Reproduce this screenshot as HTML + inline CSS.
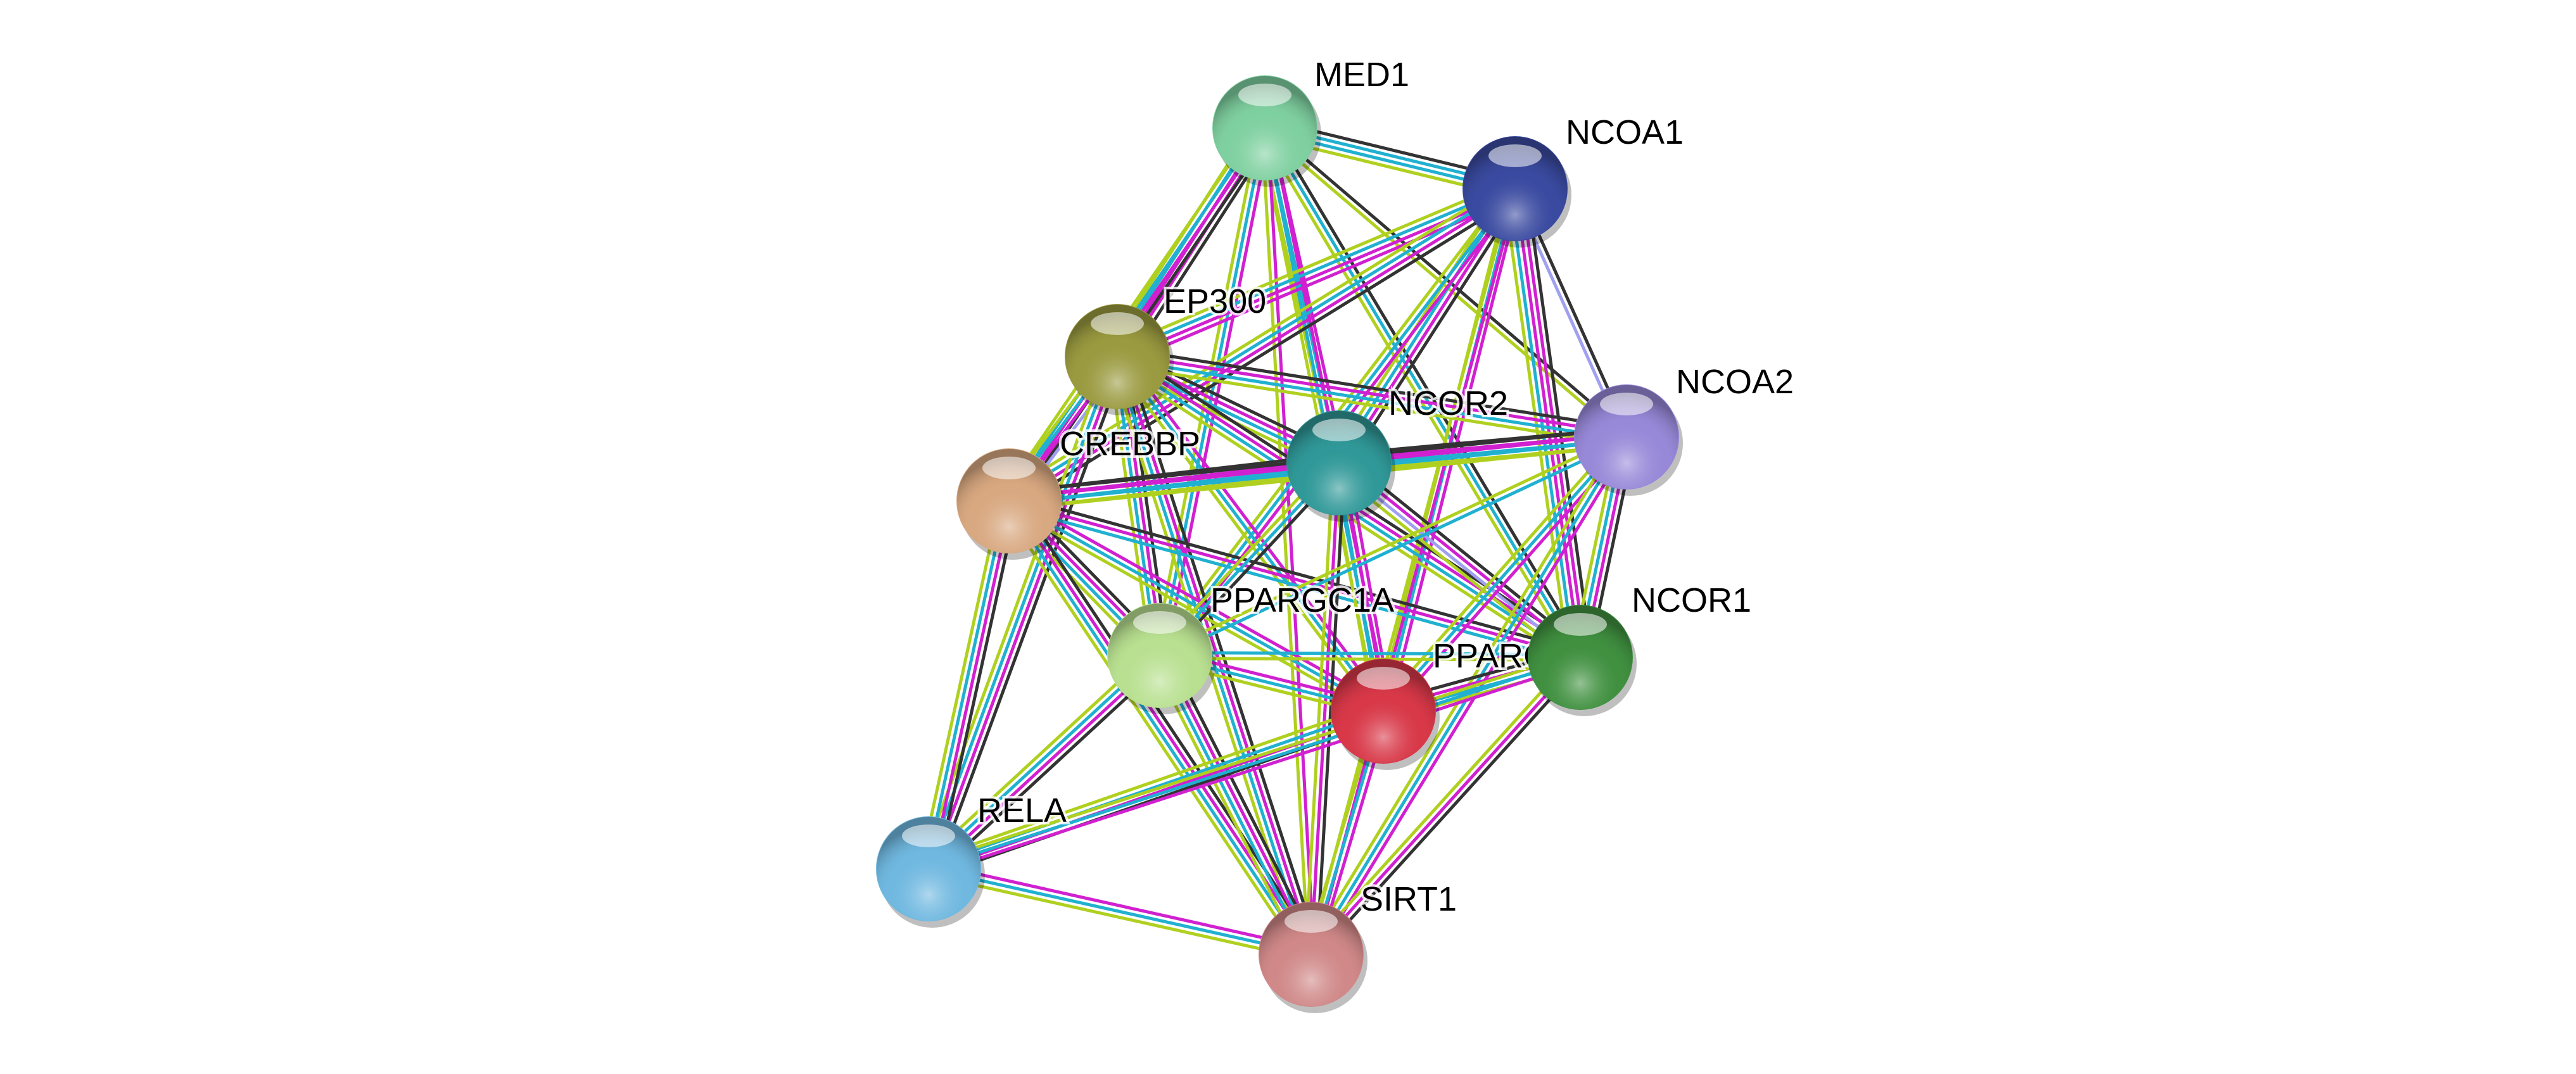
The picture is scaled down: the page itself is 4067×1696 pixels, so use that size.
<!DOCTYPE html>
<html><head><meta charset="utf-8"><style>
html,body{margin:0;padding:0;background:#fff;width:4067px;height:1696px;overflow:hidden}
svg{display:block}
text{font-family:"Liberation Sans",sans-serif;font-size:54px;fill:#000}
</style></head><body>
<svg id="s" width="4067" height="1696" xmlns="http://www.w3.org/2000/svg">
<defs id="d"></defs>
<g id="e"></g><g id="n"></g>
</svg>
<script>
const N={
MED1:[1997,202,"#7fd0a0","MED1",2075,117],
NCOA1:[2392,298,"#3a4aa0","NCOA1",2472,208],
EP300:[1764,563,"#9a9a40","EP300",1837,475],
CREBBP:[1593,791,"#d8a880","CREBBP",1673,700],
NCOR2:[2114,731,"#309898","NCOR2",2192,636],
NCOA2:[2568,690,"#9888d8","NCOA2",2646,602],
PPARGC1A:[1831,1035,"#b8e090","PPARGC1A",1911,947],
PPARG:[2184,1123,"#d83848","PPARG",2262,1035],
NCOR1:[2495,1038,"#409040","NCOR1",2576,947],
RELA:[1466,1372,"#70b8e0","RELA",1543,1279],
SIRT1:[2070,1507,"#d08888","SIRT1",2148,1419]};
const K="#333",M="#d020d0",C="#20b0d0",Y="#b0d020",B="#a0a0f0";
const E=[
["MED1","NCOA1",[K,C,C,Y]],["MED1","EP300",[K,M,M,C,Y]],["MED1","CREBBP",[K,M,C,Y]],["MED1","NCOR2",[M,C,Y]],
["MED1","PPARGC1A",[M,C,Y]],["MED1","PPARG",[M,C,Y]],["MED1","NCOR1",[K,C,Y]],["MED1","NCOA2",[K,Y]],["MED1","SIRT1",[M,Y]],
["NCOA1","EP300",[M,M,C,Y]],["NCOA1","CREBBP",[K,M,C,Y]],["NCOA1","NCOR2",[K,M,C,Y]],["NCOA1","NCOA2",[K,B]],
["NCOA1","PPARGC1A",[M,C,Y]],["NCOA1","PPARG",[M,C,Y]],["NCOA1","NCOR1",[K,M,M,C,Y]],["NCOA1","SIRT1",[M,Y]],
["EP300","CREBBP",[B,M,C,Y]],["EP300","NCOR2",[K,M,C,Y]],["EP300","NCOA2",[K,M,C,Y]],["EP300","PPARGC1A",[K,M,C,Y]],
["EP300","PPARG",[M,C,Y]],["EP300","NCOR1",[K,M,C,Y]],["EP300","RELA",[K,M,C,Y]],["EP300","SIRT1",[K,M,C,Y]],
["CREBBP","NCOR2",[K,M,C,Y]],["CREBBP","NCOA2",[K,M,C,Y]],["CREBBP","PPARGC1A",[K,M,C,Y]],["CREBBP","PPARG",[M,C,Y]],
["CREBBP","NCOR1",[K,M,C]],["CREBBP","RELA",[K,M,C,Y]],["CREBBP","SIRT1",[K,M,C,Y]],
["NCOR2","NCOA2",[K,M,C,Y]],["NCOR2","PPARGC1A",[K,C,Y]],["NCOR2","PPARG",[M,M,C,Y]],["NCOR2","NCOR1",[K,M,B,Y]],["NCOR2","SIRT1",[K,M,Y]],
["NCOA2","PPARGC1A",[C,Y]],["NCOA2","PPARG",[M,C,Y]],["NCOA2","NCOR1",[K,M,C,Y]],["NCOA2","SIRT1",[M,C,Y]],
["PPARGC1A","PPARG",[M,C,Y]],["PPARGC1A","NCOR1",[C,Y]],["PPARGC1A","RELA",[K,M,C,Y]],["PPARGC1A","SIRT1",[K,M,C,Y]],
["PPARG","NCOR1",[K,M,C,Y]],["PPARG","RELA",[K,M,C,Y]],["PPARG","SIRT1",[M,C,Y]],
["NCOR1","RELA",[M,C,Y]],["NCOR1","SIRT1",[K,M,Y]],["RELA","SIRT1",[M,C,Y]]];
const ns="http://www.w3.org/2000/svg";
function el(t,a,p){const e=document.createElementNS(ns,t);for(const k in a)e.setAttribute(k,a[k]);p.appendChild(e);return e}
const g=document.getElementById("e");
for(const [a,b,cs] of E){const [x1,y1]=N[a],[x2,y2]=N[b];const dx=x2-x1,dy=y2-y1,L=Math.hypot(dx,dy);const px=-dy/L,py=dx/L;
cs.forEach((c,i)=>{const o=(i-(cs.length-1)/2)*9;el("line",{x1:x1+px*o,y1:y1+py*o,x2:x2+px*o,y2:y2+py*o,stroke:c,"stroke-width":5},g)})}
const d=document.getElementById("d"),gn=document.getElementById("n");
let i=0;
for(const k in N){const [x,y,c,l,tx,ty]=N[k];i++;
const rg=el("radialGradient",{id:"g"+i,cx:"50%",cy:"75%",r:"65%"},d);
el("stop",{offset:"0","stop-color":"#fff","stop-opacity":"0.45"},rg);el("stop",{offset:"0.6","stop-color":c,"stop-opacity":"0"},rg);el("stop",{offset:"1","stop-color":"#000","stop-opacity":"0.3"},rg);
el("circle",{cx:x+6,cy:y+10,r:83,fill:"#000",opacity:0.25},gn);
el("circle",{cx:x,cy:y,r:83,fill:c},gn);
el("circle",{cx:x,cy:y,r:82,fill:"url(#g"+i+")"},gn);
el("ellipse",{cx:x,cy:y-52,rx:42,ry:18,fill:"#fff",opacity:0.55},gn);
const t=el("text",{x:tx,y:ty+19,stroke:"#fff","stroke-width":8,"stroke-opacity":0.8,"paint-order":"stroke"},gn);t.textContent=l;}
</script>
</body></html>
